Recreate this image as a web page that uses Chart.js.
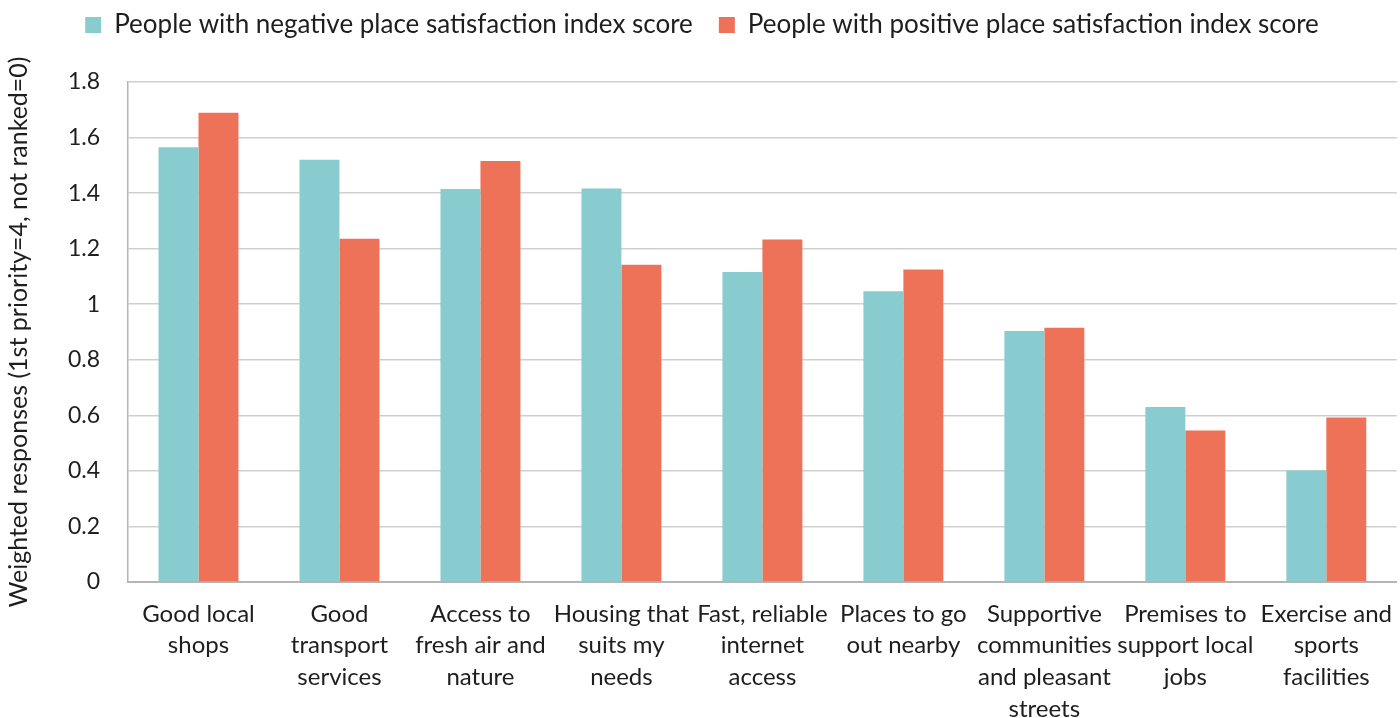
<!DOCTYPE html>
<html>
<head>
<meta charset="utf-8">
<script src="https://cdn.jsdelivr.net/npm/chart.js@4/dist/chart.umd.min.js"></script>
<style>
  html, body { margin: 0; padding: 0; background: #fff; }
  #wrap { width: 1400px; height: 718px; position: relative; }
</style>
</head>
<body>
<div id="wrap"><canvas id="cv"></canvas></div>
<script>
  const categories = [
    ["Good local", "shops"],
    ["Good", "transport", "services"],
    ["Access to", "fresh air and", "nature"],
    ["Housing that", "suits my", "needs"],
    ["Fast, reliable", "internet", "access"],
    ["Places to go", "out nearby"],
    ["Supportive", "communities", "and pleasant", "streets"],
    ["Premises to", "support local", "jobs"],
    ["Exercise and", "sports", "facilities"]
  ];
  const negativeScores = [1.565, 1.52, 1.415, 1.417, 1.116, 1.047, 0.904, 0.63, 0.401];
  const positiveScores = [1.689, 1.236, 1.516, 1.142, 1.233, 1.125, 0.915, 0.545, 0.592];
  const seriesNames = [
    "People with negative place satisfaction index score",
    "People with positive place satisfaction index score"
  ];
  const yTitle = "Weighted responses (1st priority=4, not ranked=0)";

  const FONT = "Lato, 'Open Sans', sans-serif";
  const TEXT = "#1e1e1e";

  // reserve room under the legend, then lift the legend row toward the top edge
  const legendSpace = {
    id: "legendSpace",
    beforeInit(chart) {
      const fit = chart.legend.fit;
      chart.legend.fit = function () {
        fit.call(this);
        this.height = 80;
      };
    },
    afterLayout(chart) {
      chart.legend.top -= 16;
      chart.legend.bottom -= 16;
    }
  };

  new Chart(document.getElementById("cv"), {
    type: "bar",
    data: {
      labels: categories,
      datasets: [
        { label: seriesNames[0], data: negativeScores, backgroundColor: "#88CCCF" },
        { label: seriesNames[1], data: positiveScores, backgroundColor: "#EE7257" }
      ]
    },
    options: {
      responsive: true,
      maintainAspectRatio: false,
      animation: false,
      layout: { padding: { left: 4, right: 0, top: 2, bottom: 0 } },
      datasets: { bar: { categoryPercentage: 0.567, barPercentage: 1.0 } },
      plugins: {
        legend: {
          position: "top",
          labels: {
            color: TEXT,
            font: { family: FONT, size: 26 },
            boxWidth: 16,
            boxHeight: 16,
            padding: 26
          }
        },
        tooltip: { enabled: false }
      },
      scales: {
        x: {
          grid: { display: false },
          border: { display: true, color: "#b5b5b5", width: 2 },
          ticks: {
            color: TEXT,
            font: { family: FONT, size: 24, lineHeight: 1.32 },
            maxRotation: 0,
            autoSkip: false,
            padding: 8
          },
          afterFit(scale) { scale.height = 136; }
        },
        y: {
          min: 0,
          max: 1.8,
          ticks: {
            stepSize: 0.2,
            color: TEXT,
            font: { family: FONT, size: 23 },
            padding: 28,
            callback: (v) => String(Number(v.toFixed(1)))
          },
          grid: { color: "#cfcfcf", lineWidth: 1.5, drawTicks: false },
          border: { display: true, color: "#b5b5b5", width: 1.5 },
          title: {
            display: true,
            text: yTitle,
            color: TEXT,
            font: { family: FONT, size: 25 },
            padding: 0
          },
          afterFit(scale) { scale.width = 124; }
        }
      }
    },
    plugins: [legendSpace]
  });
</script>
</body>
</html>
